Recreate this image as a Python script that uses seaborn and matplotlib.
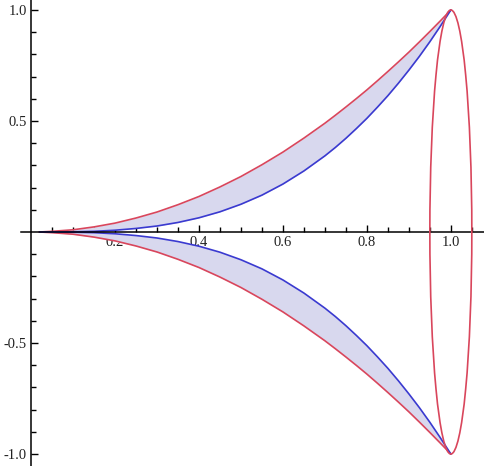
import numpy as np
import matplotlib
matplotlib.use("Agg")
import matplotlib.pyplot as plt
from matplotlib.patches import Ellipse
from matplotlib.ticker import FixedLocator
import seaborn as sns

# =========================
# data
# =========================
x_vals = [0.02, 0.05, 0.10, 0.15, 0.20, 0.25, 0.30, 0.35, 0.40, 0.45, 0.50,
          0.55, 0.60, 0.65, 0.70, 0.725, 0.75, 0.775, 0.80, 0.825, 0.85,
          0.875, 0.90, 0.925, 0.95, 0.975, 1.00]
red_upper = [0.000, 0.003, 0.010, 0.023, 0.040, 0.063, 0.090, 0.123, 0.160, 0.203, 0.250,
             0.303, 0.360, 0.423, 0.490, 0.526, 0.563, 0.601, 0.640, 0.681, 0.723,
             0.766, 0.810, 0.856, 0.903, 0.951, 1.000]
blue_upper = [0.000, 0.000, 0.001, 0.003, 0.008, 0.016, 0.027, 0.043, 0.064, 0.091, 0.125,
              0.166, 0.216, 0.275, 0.343, 0.381, 0.422, 0.466, 0.512, 0.562, 0.614,
              0.670, 0.729, 0.791, 0.857, 0.927, 1.000]
# lower half is the mirror image of the upper half
red_lower = [-v for v in red_upper]
blue_lower = [-v for v in blue_upper]

# ellipse at the right end
ellipse_center = (1.0, 0.0)
ellipse_width = 0.10
ellipse_height = 2.0

x_major = [0.2, 0.4, 0.6, 0.8, 1.0]
y_major = [-1.0, -0.5, 0.5, 1.0]

red = "#d9465c"
blue = "#3a3ad0"
fill = "#d8d8ee"

sns.set_style("white")
plt.rcParams['font.family'] = ['Liberation Serif', 'DejaVu Serif']

fig = plt.figure(figsize=(4.84, 4.66), dpi=100)
ax = fig.add_axes([0, 0, 1, 1])

ax.fill_between(x_vals, blue_upper, red_upper, color=fill, lw=0)
ax.fill_between(x_vals, red_lower, blue_lower, color=fill, lw=0)

for yv, c in [(red_upper, red), (blue_upper, blue), (red_lower, red), (blue_lower, blue)]:
    sns.lineplot(x=x_vals, y=yv, color=c, lw=1.2, ax=ax, estimator=None, sort=False)

ax.add_patch(Ellipse(ellipse_center, ellipse_width, ellipse_height,
                     fill=False, edgecolor=red, lw=1.2, zorder=3))

ax.set_xlim(-0.074, 1.079)
ax.set_ylim(-1.054, 1.045)

# axes through the origin
for s in ['top', 'right']:
    ax.spines[s].set_visible(False)
ax.spines['left'].set_position(('data', 0))
ax.spines['bottom'].set_position(('data', 0))
ax.spines['bottom'].set_bounds(-0.025, 1.079)
for s in ['left', 'bottom']:
    ax.spines[s].set_color('black')
    ax.spines[s].set_linewidth(1.1)

ax.xaxis.set_major_locator(FixedLocator(x_major))
ax.yaxis.set_major_locator(FixedLocator(y_major))
ax.xaxis.set_minor_locator(FixedLocator([v for v in np.arange(0.05, 1.08, 0.05) if abs(v / 0.2 - round(v / 0.2)) > 1e-6]))
ax.yaxis.set_minor_locator(FixedLocator([v for v in np.arange(-1.0, 1.01, 0.1) if abs(v) > 1e-6 and abs(v / 0.5 - round(v / 0.5)) > 1e-6]))
ax.set_xticklabels([f"{v:.1f}" for v in x_major])
ax.set_yticklabels([f"{v:.1f}" for v in y_major])

ax.tick_params(which='both', direction='in', bottom=True, left=True, color='black',
               width=1.0, labelsize=10.5, pad=3, labelcolor='#222222')
ax.tick_params(which='major', length=5)
ax.tick_params(which='minor', length=3.5)
ax.set_xlabel('')
ax.set_ylabel('')

fig.savefig('out.png', dpi=100)
